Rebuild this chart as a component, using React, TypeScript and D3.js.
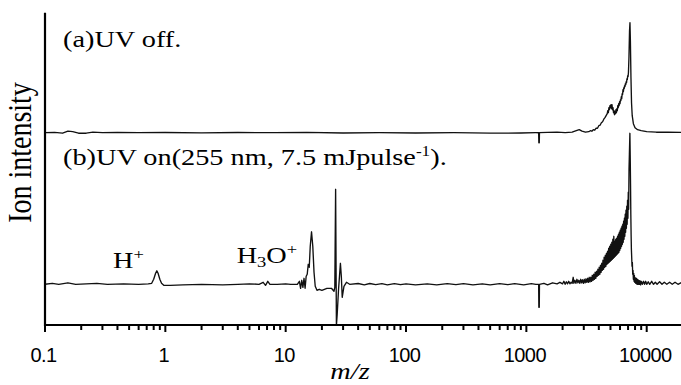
import React from "react";
import * as d3 from "d3";

// m/z tick values and labels
const tickValues = [0.1, 1, 10, 100, 1000, 10000];
const tickLabels = ["0.1", "1", "10", "100", "1000", "10000"];

// Trace offsets (arb. units) for the stacked spectra
const offsetA = 192.3;
const offsetB = 40.7;

// (a) UV off: [m/z, relative intensity]
const traceA: [number, number][] = [
  [0.1, 0], [0.12, 0.3], [0.14, -0.5], [0.155, 1.5], [0.17, 1], [0.19, -0.5], [0.22, -0.5],
  [0.25, 0.5], [0.3, 0], [0.4, 0.3], [0.6, 0], [1, 0.2], [2, -0.2], [4, 0.2], [8, 0],
  [15, 0.3], [30, -0.3], [60, 0], [120, -0.3], [250, 0], [500, -0.5], [900, -0.3],
  [1200, 0], [1265, 0], [1270, -10], [1280, -10], [1285, 0], [1500, 0.3], [1800, 0.5], [2100, 0],
  [2400, 0.5], [2600, 2], [2750, 3], [2900, 1.5], [3100, 0.5], [3300, 1], [3400, 2], [3500, 1.5],
  [3600, 3], [3700, 2.5], [3800, 4.5], [3900, 4.5], [4000, 7], [4100, 7.5], [4200, 10],
  [4300, 11], [4400, 13.5], [4500, 15], [4600, 17], [4700, 19], [4750, 22], [4800, 20],
  [4850, 25], [4900, 23], [4950, 27], [5000, 25], [5050, 28], [5100, 24], [5150, 28],
  [5200, 23], [5250, 25], [5300, 20], [5350, 22], [5400, 18], [5450, 21], [5500, 19],
  [5550, 23], [5600, 20], [5650, 24], [5700, 22], [5750, 27], [5800, 25], [5850, 29],
  [5900, 27], [5950, 31], [6000, 29], [6050, 33], [6100, 32], [6150, 36], [6200, 34],
  [6250, 39], [6300, 38], [6350, 43], [6400, 41], [6450, 45], [6500, 44], [6550, 47],
  [6600, 46], [6650, 49], [6700, 48], [6750, 51], [6800, 50], [6850, 54], [6900, 53],
  [6950, 57], [7000, 56], [7050, 60], [7120, 75], [7200, 102], [7260, 110], [7320, 92],
  [7400, 55], [7480, 30], [7580, 17], [7750, 9], [8000, 5], [8400, 3], [9000, 2],
  [10000, 1], [12000, 0.5], [15000, 0.5], [20000, 0.3],
];

// (b) UV on: [m/z, relative intensity]
const traceB: [number, number][] = [
  [0.1, 0], [0.115, 1], [0.13, 0], [0.155, 1.5], [0.18, 0], [0.22, 0.5], [0.27, 1], [0.33, 0],
  [0.45, 0.5], [0.6, 0], [0.72, 0.5], [0.77, 1], [0.8, 5], [0.83, 11], [0.85, 13.5], [0.87, 11],
  [0.9, 5], [0.93, 1], [0.97, -1], [1.1, -1], [1.4, -0.5], [2, 0], [3, -0.5], [4, 0],
  [5, 0.5], [6, 0], [6.5, 2], [6.8, -1], [7.1, 3], [7.4, 0], [8.5, 0], [10, 0.5], [11, 0],
  [12.5, 0], [13, 3], [13.3, -4], [13.6, 4], [13.9, -3], [14.2, 6], [14.5, -4], [14.8, 8],
  [15.1, 10], [15.4, 20], [15.7, 17], [16.0, 38], [16.4, 52.5], [16.8, 38], [17.2, 12],
  [17.6, -2], [18.2, -6], [19, -5], [20, -6], [22, -4], [24, -4], [25.2, -7], [25.6, -3],
  [26.0, 95], [26.4, -41], [26.8, -30], [27.5, -5], [28, 8], [28.5, 21], [29, 8], [29.5, -13],
  [30.5, -2], [32, 2], [34, 0], [40, 0.8], [45, -0.5], [50, 0.8], [56, -0.3], [63, 0.6],
  [70, -0.5], [80, 0.7], [90, -0.4], [100, 0.5], [120, -0.6], [150, 0.5], [180, -0.5],
  [220, 0.6], [260, -0.4], [300, 0.6], [360, -0.6], [430, 0.5], [500, -0.6], [600, 0.7],
  [700, -0.4], [800, 0.6], [950, -0.5], [1100, 0.6], [1200, 0], [1265, 0], [1270, -23],
  [1280, -23], [1285, 0], [1400, 1], [1500, -0.5], [1650, 1.5], [1800, 0.5], [1900, 2],
  [2000, 0.5], [2050, 3], [2100, 0], [2150, 2.5], [2200, 0.5], [2250, 3], [2300, 0.5],
  [2350, 2], [2400, 1], [2450, 7], [2480, 1], [2530, 4], [2580, 1], [2630, 5], [2680, 1.5],
  [2730, 4], [2780, 1], [2830, 5], [2880, 1.5], [2930, 4.5], [2980, 1], [3030, 5], [3080, 1.5],
  [3130, 5.5], [3180, 2], [3230, 6], [3280, 2], [3330, 7], [3380, 2.5], [3430, 7], [3480, 3],
  [3530, 9], [3580, 4], [3630, 10], [3680, 5], [3730, 12], [3780, 6], [3830, 13], [3880, 8],
  [3930, 15], [3980, 9], [4030, 17], [4080, 10], [4130, 19], [4180, 12], [4230, 21],
  [4280, 14], [4330, 24], [4380, 15], [4430, 27], [4480, 17], [4530, 29], [4580, 18],
  [4630, 31], [4680, 20], [4730, 33], [4780, 21], [4830, 36], [4880, 22], [4930, 38],
  [4980, 23], [5030, 40], [5080, 24], [5130, 42], [5180, 25], [5230, 45], [5280, 26],
  [5330, 48], [5380, 27], [5430, 43], [5480, 28], [5530, 45], [5580, 29], [5630, 46],
  [5680, 30], [5730, 48], [5780, 31], [5830, 50], [5880, 32], [5930, 52], [5980, 34],
  [6030, 54], [6080, 36], [6130, 56], [6180, 38], [6230, 58], [6280, 40], [6330, 60],
  [6380, 42], [6430, 63], [6480, 45], [6530, 66], [6580, 48], [6630, 70], [6680, 52],
  [6730, 74], [6780, 56], [6830, 78], [6880, 60], [6930, 84], [6980, 66], [7030, 92],
  [7080, 75], [7130, 115], [7180, 130], [7250, 151], [7300, 125], [7340, 100], [7380, 70],
  [7420, 50], [7460, 35], [7500, 28], [7550, 18], [7600, 22], [7650, 10], [7700, 14],
  [7750, 5], [7800, 11], [7850, 3], [7900, 9], [7950, 2], [8000, 7], [8100, 1], [8200, 6],
  [8300, 0], [8400, 5], [8500, 0], [8600, 4], [8700, 0], [8800, 3.5], [8900, -0.5],
  [9000, 3], [9200, 0], [9400, 3], [9600, 0], [9800, 3], [10000, 0], [10300, 2.5],
  [10600, 0], [11000, 3], [11400, 0], [11800, 2], [12200, 0], [12800, 2.5], [13400, 0],
  [14000, 2], [14700, 0], [15500, 2], [16300, 0], [17200, 2], [18200, 0], [19200, 1.5],
  [20000, 0],
];

const W = 681;
const H = 385;
const axisX = 45;
const axisY = 325;
const topY = 12.7;

export default function App() {
  const x = d3.scaleLog().domain([0.1, 10000]).range([axisX, 646.7]);
  const y = d3.scaleLinear().domain([0, 312]).range([axisY, axisY - 312]);

  const lineA = d3
    .line<[number, number]>()
    .x((d) => x(d[0]))
    .y((d) => y(offsetA + d[1]));
  const lineB = d3
    .line<[number, number]>()
    .x((d) => x(d[0]))
    .y((d) => y(offsetB + d[1]));

  const minorTicks: number[] = [];
  for (const dec of tickValues) {
    for (let k = 2; k <= 9; k++) {
      const v = dec * k;
      if (x(v) <= W) minorTicks.push(v);
    }
  }

  const serif = "'Liberation Serif', 'Times New Roman', serif";
  const sans = "'Liberation Sans', Arial, sans-serif";
  const sx = 1.23;

  return (
    <svg
      width={W}
      height={H}
      style={{ position: "absolute", left: 0, top: 0, background: "#fff" }}
    >
      <rect width={W} height={H} fill="#fff" />
      <defs>
        <clipPath id="plot">
          <rect x={axisX} y={0} width={W - axisX} height={axisY} />
        </clipPath>
      </defs>
      <g clipPath="url(#plot)" fill="none" stroke="#111" strokeWidth={1.35} strokeLinejoin="round">
        <path d={lineA(traceA) || ""} />
        <path d={lineB(traceB) || ""} />
      </g>

      {/* axes */}
      <line x1={axisX} x2={axisX} y1={topY} y2={axisY + 1} stroke="#000" strokeWidth={2.2} />
      <line x1={axisX - 1} x2={W} y1={axisY} y2={axisY} stroke="#000" strokeWidth={2.2} />
      {tickValues.map((v) => (
        <line key={"M" + v} x1={x(v)} x2={x(v)} y1={axisY} y2={axisY + 7} stroke="#000" strokeWidth={2} />
      ))}
      {minorTicks.map((v) => (
        <line key={"m" + v} x1={x(v)} x2={x(v)} y1={axisY} y2={axisY + 5} stroke="#000" strokeWidth={2} />
      ))}
      {tickValues.map((v, i) => (
        <text
          key={"t" + v}
          x={x(v) - 1.5}
          y={361.5}
          textAnchor="middle"
          fontFamily={sans}
          fontSize={20}
          letterSpacing={-0.6}
          fill="#000"
        >
          {tickLabels[i]}
        </text>
      ))}

      {/* axis titles */}
      <g transform={`translate(350,379) scale(${sx},1)`}>
        <text textAnchor="middle" fontFamily={serif} fontStyle="italic" fontSize={23} fill="#000">
          m/z
        </text>
      </g>
      <g transform={`translate(31,152.5) scale(1.2,1) rotate(-90)`}>
        <text textAnchor="middle" fontFamily={serif} fontSize={28} fill="#000">
          Ion intensity
        </text>
      </g>

      {/* panel labels */}
      <g transform={`translate(63,46.7) scale(${sx},1)`}>
        <text fontFamily={serif} fontSize={23} fill="#000">
          (a)UV off.
        </text>
      </g>
      <g transform={`translate(63,165) scale(${sx},1)`}>
        <text fontFamily={serif} fontSize={23} fill="#000">
          (b)UV on(255 nm, 7.5 mJpulse
          <tspan fontSize={14} dy={-9}>-1</tspan>
          <tspan dy={9}>).</tspan>
        </text>
      </g>
      <g transform={`translate(113,268) scale(${sx},1)`}>
        <text fontFamily={serif} fontSize={23} fill="#000">
          H<tspan fontSize={15} dy={-9}>+</tspan>
        </text>
      </g>
      <g transform={`translate(236.7,263) scale(${sx},1)`}>
        <text fontFamily={serif} fontSize={23} fill="#000">
          H<tspan fontSize={15} dy={4}>3</tspan>
          <tspan dy={-4}>O</tspan>
          <tspan fontSize={15} dy={-9}>+</tspan>
        </text>
      </g>
    </svg>
  );
}
